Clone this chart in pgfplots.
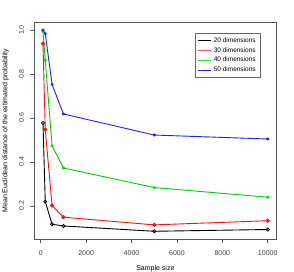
\documentclass[border=0pt]{standalone}
\usepackage{fontspec}
\setmainfont{Liberation Sans}
\usepackage{pgfplots}
\pgfplotsset{compat=1.18}
\definecolor{rgreen}{HTML}{00CD00}
\definecolor{rblue}{HTML}{2020FF}
\definecolor{rred}{HTML}{FF1010}
\begin{document}
\begin{tikzpicture}[x=1pt,y=1pt]
\path[use as bounding box] (0,0) rectangle (294,271);
\begin{axis}[
  at={(34pt,31.7pt)}, anchor=south west,
  scale only axis, width=242.7pt, height=217.3pt,
  xmin=-296, xmax=10396, ymin=0.0474, ymax=1.0366,
  axis line style={black!65, line width=0.6pt},
  xtick={0,2000,4000,6000,8000,10000},
  ytick={0.2,0.4,0.6,0.8,1.0},
  yticklabels={0.2,0.4,0.6,0.8,1.0},
  scaled x ticks=false,
  xticklabel style={/pgf/number format/1000 sep={}, font=\fontsize{7}{8}\selectfont, text=black!75},
  yticklabel style={rotate=90, anchor=south, font=\fontsize{7}{8}\selectfont, text=black!75},
  /pgf/number format/assume math mode=true,
  tick align=outside, tick pos=left,
  major tick length=3.5pt,
  tick style={black!65, line width=0.5pt},
  xticklabel shift=4pt, yticklabel shift=3pt,
  xlabel={Sample size}, ylabel={Mean Euclidean distance of the estimated probability},
  xlabel style={font=\fontsize{7}{8}\selectfont, at={(axis description cs:0.5,-0.1344)}, anchor=center},
  ylabel style={font=\fontsize{7}{8}\selectfont, at={(axis description cs:-0.1174,0.5)}, anchor=center},
  legend style={at={(axis description cs:0.935,0.948)}, anchor=north east,
    draw=black!60, line width=0.5pt, font=\fontsize{6.5}{7}\selectfont,
    inner xsep=3pt, inner ysep=2pt, row sep=-0.4pt,
    legend cell align=left},
  legend image code/.code={\draw[#1, line width=0.7pt] (0pt,0pt) -- (13pt,0pt);},
  every axis plot/.append style={line width=0.9pt, mark size=1.6pt},
]
\addlegendimage{black}\addlegendentry{20 dimensions}
\addlegendimage{rred!70}\addlegendentry{30 dimensions}
\addlegendimage{rgreen!80}\addlegendentry{40 dimensions}
\addlegendimage{rblue}\addlegendentry{50 dimensions}
\addplot[black, mark=o, mark options={line width=0.7pt}, forget plot] coordinates {
(100,0.577) (200,0.219) (500,0.116) (1000,0.108) (5000,0.084) (10000,0.092)};
\addplot[rred, mark=*, forget plot] coordinates {
(100,0.938) (200,0.547) (500,0.201) (1000,0.148) (5000,0.113) (10000,0.132)};
\addplot[rgreen, mark=asterisk, mark options={line width=0.6pt}, forget plot] coordinates {
(100,0.995) (200,0.862) (500,0.473) (1000,0.372) (5000,0.283) (10000,0.239)};
\addplot[rblue, mark=asterisk, mark options={line width=0.6pt}, forget plot] coordinates {
(100,1.0) (200,0.984) (500,0.752) (1000,0.618) (5000,0.522) (10000,0.504)};
\end{axis}
\end{tikzpicture}
\end{document}
